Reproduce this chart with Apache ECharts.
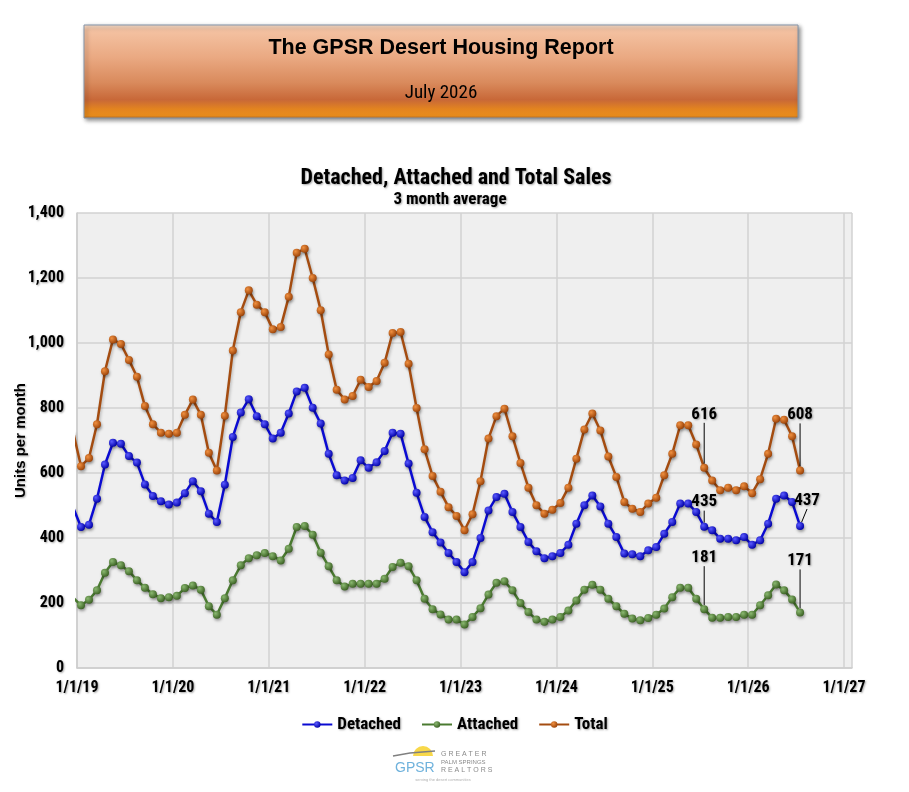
<!DOCTYPE html>
<html>
<head>
<meta charset="utf-8">
<script src="https://cdn.jsdelivr.net/npm/echarts@6/dist/echarts.min.js"></script>
<style>
  html, body { margin: 0; padding: 0; background: #fff; }
  #chart { width: 909px; height: 792px; }
</style>
</head>
<body>
<div id="chart"></div>
<script>
// monthly 3 month averages, Dec 2018 .. Jul 2026 (Dec 2018 sits left of the axis and is clipped)
var startYear = 2018, startMonth = 11;

var detached = [495,
    434, 441, 521, 626, 693, 690, 652, 632, 565, 529, 513, 503,
    509, 538, 575, 544, 475, 449, 564, 711, 786, 827, 775, 750,
    706, 724, 783, 851, 862, 801, 752, 659, 593, 577, 585, 639,
    616, 633, 668, 724, 721, 629, 539, 465, 418, 386, 354, 326,
    295, 326, 400, 485, 526, 536, 480, 434, 388, 359, 338, 344,
    354, 379, 444, 501, 531, 497, 444, 403, 352, 350, 344, 362,
    372, 413, 449, 506, 506, 480, 435, 424, 398, 398, 393, 403,
    379, 393, 444, 521, 531, 511, 437];

var attached = [217,
    193, 210, 239, 293, 326, 316, 298, 270, 247, 227, 215, 218,
    222, 246, 254, 241, 190, 164, 215, 270, 316, 338, 347, 354,
    344, 331, 367, 434, 437, 410, 355, 313, 270, 251, 259, 259,
    259, 259, 275, 311, 324, 313, 270, 213, 181, 165, 149, 149,
    134, 157, 184, 226, 262, 267, 239, 200, 172, 149, 142, 149,
    157, 177, 208, 241, 256, 241, 213, 190, 167, 152, 147, 154,
    164, 183, 218, 247, 247, 213, 181, 155, 155, 157, 157, 164,
    164, 193, 224, 257, 239, 211, 171];

var total = [728,
    621, 646, 750, 913, 1011, 997, 948, 896, 806, 750, 724, 721,
    724, 779, 826, 779, 662, 608, 776, 977, 1095, 1162, 1118, 1095,
    1042, 1049, 1142, 1278, 1290, 1200, 1101, 965, 856, 826, 837, 887,
    865, 883, 939, 1031, 1034, 936, 800, 673, 591, 542, 495, 468,
    424, 473, 575, 706, 775, 798, 713, 631, 555, 501, 475, 487,
    508, 555, 644, 734, 783, 731, 651, 588, 511, 490, 480, 506,
    524, 593, 659, 747, 747, 688, 616, 577, 547, 555, 547, 559,
    538, 581, 659, 767, 764, 713, 608];

var seriesNames = ['Detached', 'Attached', 'Total'];
var yTicks = [0, 200, 400, 600, 800, 1000, 1200, 1400];
var xYears = ['1/1/19', '1/1/20', '1/1/21', '1/1/22', '1/1/23', '1/1/24', '1/1/25', '1/1/26', '1/1/27'];

// which points carry a value label (Jul 2025, Jul 2026)
var labelIdx = [79, 91];

// look for a condensed face, otherwise shrink the normal one a bit
function hasFont(name) {
    var ctx = document.createElement('canvas').getContext('2d');
    var t = 'abcdefghijklmnopqrstuvwxyz 0123456789 ABCDEFG';
    var found = false;
    ['monospace', 'serif'].forEach(function (fb) {
        ctx.font = 'bold 20px ' + fb;
        var w1 = ctx.measureText(t).width;
        ctx.font = "bold 20px '" + name + "', " + fb;
        if (ctx.measureText(t).width !== w1) found = true;
    });
    return found;
}
var narrowName = null;
['Liberation Sans Narrow', 'Arial Narrow', 'Roboto Condensed', 'DejaVu Sans Condensed', 'Open Sans Condensed'].forEach(function (n) {
    if (!narrowName && hasFont(n)) narrowName = n;
});
var narrow = narrowName ? "'" + narrowName + "', sans-serif" : "'Liberation Sans', Arial, sans-serif";
var fs = narrowName ? 1 : 0.86;
function sz(n) { return Math.round(n * fs * 10) / 10; }

var shadowText = {
    textShadowColor: 'rgba(0,0,0,0.35)',
    textShadowBlur: 2,
    textShadowOffsetX: 1,
    textShadowOffsetY: 1
};

function ball(c1, c2) {
    return new echarts.graphic.RadialGradient(0.35, 0.35, 0.7, [
        { offset: 0, color: c1 },
        { offset: 1, color: c2 }
    ]);
}

// month index -> x position in months since 1/1/19, middle of the month
function buildData(values) {
    return values.map(function (v, i) {
        var x = (startYear - 2019) * 12 + startMonth + i + 0.5;
        if (x < 0) {
            return { value: [x, v], symbolSize: 0 };
        }
        if (labelIdx.indexOf(i) >= 0) {
            return { value: [x, v], label: { show: true } };
        }
        return [x, v];
    });
}

function makeSeries(name, values, lineColor, c1, c2, offsets) {
    return {
        name: name,
        type: 'line',
        data: buildData(values),
        symbol: 'circle',
        symbolSize: 8,
        clip: true,
        lineStyle: {
            color: lineColor,
            width: 2.5,
            shadowColor: 'rgba(0,0,0,0.25)',
            shadowBlur: 3,
            shadowOffsetX: 1,
            shadowOffsetY: 2
        },
        itemStyle: {
            color: ball(c1, c2),
            borderWidth: 0,
            shadowColor: 'rgba(0,0,0,0.35)',
            shadowBlur: 3,
            shadowOffsetX: 1,
            shadowOffsetY: 2
        },
        label: Object.assign({
            show: false,
            position: 'top',
            distance: 4,
            color: '#000',
            fontFamily: narrow,
            fontSize: sz(17),
            fontWeight: 'bold',
            formatter: function (p) { return p.value[1]; }
        }, shadowText),
        labelLine: {
            show: true,
            lineStyle: { color: '#000', width: 1 }
        },
        labelLayout: function (p) {
            var o = offsets[p.dataIndex];
            return o ? { dx: o[0], dy: o[1] } : {};
        },
        emphasis: { disabled: true }
    };
}

var chart = echarts.init(document.getElementById('chart'));

var option = {
    animation: false,
    backgroundColor: '#ffffff',
    title: [{
        text: 'Detached, Attached and Total Sales',
        left: 451,
        top: 162,
        textAlign: 'center',
        textStyle: Object.assign({ fontFamily: narrow, fontSize: sz(22), fontWeight: 'bold', color: '#000' }, shadowText)
    }, {
        text: '3 month average',
        left: 445,
        top: 186,
        textAlign: 'center',
        textStyle: Object.assign({ fontFamily: narrow, fontSize: sz(17), fontWeight: 'bold', color: '#000' }, shadowText)
    }],
    legend: {
        data: seriesNames,
        top: 711,
        left: 'center',
        itemWidth: 30,
        itemHeight: 8,
        itemGap: 20,
        textStyle: Object.assign({ fontFamily: narrow, fontSize: sz(17), fontWeight: 'bold', color: '#000' }, shadowText)
    },
    grid: {
        left: 77,
        right: 57,
        top: 213,
        bottom: 124,
        outerBoundsMode: 'none',
        containLabel: false,
        show: true,
        backgroundColor: '#efefef',
        borderWidth: 0
    },
    xAxis: {
        type: 'value',
        min: 0,
        max: 97,
        interval: 12,
        axisLine: { show: true, lineStyle: { color: '#cdcdcd', width: 1.5 } },
        axisTick: { show: false },
        splitLine: { show: true, lineStyle: { color: '#d2d2d2', width: 1.5 } },
        axisLabel: Object.assign({
            showMaxLabel: false,
            margin: 12,
            color: '#000',
            fontFamily: narrow,
            fontSize: sz(16),
            fontWeight: 'bold',
            formatter: function (v) { return xYears[v / 12] || ''; }
        }, shadowText)
    },
    yAxis: {
        type: 'value',
        min: yTicks[0],
        max: yTicks[yTicks.length - 1],
        interval: 200,
        name: 'Units per month',
        nameLocation: 'middle',
        nameGap: 49,
        nameMoveOverlap: false,
        nameTextStyle: Object.assign({ fontFamily: "'Liberation Sans', Arial, sans-serif", fontSize: 15, fontWeight: 'bold', color: '#000' }, shadowText),
        axisLine: { show: true, lineStyle: { color: '#cdcdcd', width: 1.5 } },
        axisTick: { show: false },
        splitLine: { show: true, lineStyle: { color: '#d2d2d2', width: 1.5 } },
        axisLabel: Object.assign({
            margin: 13,
            color: '#000',
            fontFamily: narrow,
            fontSize: sz(16),
            fontWeight: 'bold',
            formatter: function (v) { return v.toLocaleString('en-US'); }
        }, shadowText)
    },
    series: [
        makeSeries(seriesNames[0], detached, '#0a0ad2', '#5a5aff', '#0000a8', { 79: [0, -8], 91: [7, -9] }),
        makeSeries(seriesNames[1], attached, '#4a7a30', '#8ab870', '#3a6022', { 79: [0, -35], 91: [0, -35] }),
        makeSeries(seriesNames[2], total, '#a44c10', '#f09040', '#9a4208', { 79: [0, -37], 91: [0, -39] })
    ],
    graphic: [
        {
            type: 'rect',
            shape: { x: 84, y: 25, width: 714, height: 93 },
            style: {
                fill: new echarts.graphic.LinearGradient(0, 0, 0, 1, [
                    { offset: 0, color: '#fbe2d0' },
                    { offset: 0.06, color: '#f4c2a2' },
                    { offset: 0.35, color: '#eaa982' },
                    { offset: 0.62, color: '#d98a5c' },
                    { offset: 0.8, color: '#c86838' },
                    { offset: 0.9, color: '#e3841f' },
                    { offset: 0.97, color: '#e88c1c' },
                    { offset: 1, color: '#b86c20' }
                ]),
                stroke: '#8494a8',
                lineWidth: 1,
                shadowColor: 'rgba(0,0,0,0.45)',
                shadowBlur: 4,
                shadowOffsetX: 2,
                shadowOffsetY: 2
            },
            z: 10
        },
        {
            type: 'text',
            x: 441,
            y: 48,
            style: {
                text: 'The GPSR Desert Housing Report',
                font: "bold 21.5px 'Liberation Sans', Arial, sans-serif",
                fill: '#000',
                align: 'center',
                verticalAlign: 'middle'
            },
            z: 11
        },
        {
            type: 'text',
            x: 441,
            y: 93,
            style: {
                text: 'July 2026',
                font: sz(19) + "px " + narrow,
                fill: '#000',
                align: 'center',
                verticalAlign: 'middle'
            },
            z: 11
        },
        // GPSR logo
        {
            type: 'circle',
            shape: { cx: 423, cy: 756, r: 10 },
            style: { fill: '#f8d84a' },
            z: 10
        },
        {
            type: 'rect',
            shape: { x: 405, y: 756, width: 36, height: 12 },
            style: { fill: '#ffffff' },
            z: 10
        },
        {
            type: 'polyline',
            shape: { points: [[393, 756], [410, 753], [435, 751]] },
            style: { stroke: '#808080', lineWidth: 1.5, fill: null },
            z: 11
        },
        {
            type: 'text',
            x: 395,
            y: 768,
            style: {
                text: 'GPSR',
                font: "14px 'Liberation Sans', Arial, sans-serif",
                fill: '#6fb2dc',
                verticalAlign: 'middle'
            },
            z: 11
        },
        {
            type: 'text',
            x: 441,
            y: 754,
            style: { text: 'G R E A T E R', font: "7px 'Liberation Sans', sans-serif", fill: '#8a8a8a', verticalAlign: 'middle' },
            z: 11
        },
        {
            type: 'text',
            x: 441,
            y: 762,
            style: { text: 'PALM SPRINGS', font: "6px 'Liberation Sans', sans-serif", fill: '#8a8a8a', verticalAlign: 'middle' },
            z: 11
        },
        {
            type: 'text',
            x: 441,
            y: 770,
            style: { text: 'R E A L T O R S', font: "7px 'Liberation Sans', sans-serif", fill: '#8a8a8a', verticalAlign: 'middle' },
            z: 11
        },
        {
            type: 'text',
            x: 443,
            y: 780,
            style: { text: 'serving the desert communities', font: "4px 'Liberation Sans', sans-serif", fill: '#b0b0b0', align: 'center', verticalAlign: 'middle' },
            z: 11
        }
    ]
};

chart.setOption(option);
</script>
</body>
</html>
